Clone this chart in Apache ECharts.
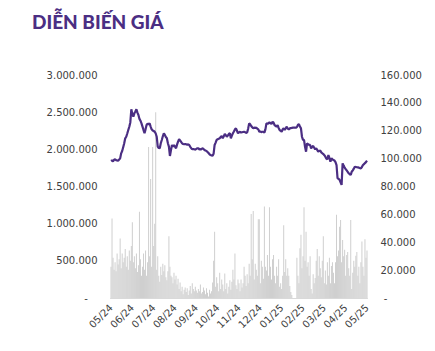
<!DOCTYPE html>
<html>
<head>
<meta charset="utf-8">
<script src="https://cdn.jsdelivr.net/npm/echarts@6/dist/echarts.min.js"></script>
<style>
html,body{margin:0;padding:0;background:#fff;}
#c{width:435px;height:351px;}
</style>
</head>
<body>
<div id="c"></div>
<script>
var titleText = 'DIỄN BIẾN GIÁ';
var monthLabels = ['05/24','06/24','07/24','08/24','09/24','10/24','11/24','12/24','01/25','02/25','03/25','04/25','05/25'];
var price = [
98300,98800,98000,99200,99500,98900,98700,98500,99300,100200,
103800,105500,108200,111000,114600,115700,118000,120500,122900,126000,
135400,132000,130100,132500,133800,135400,133000,131300,128500,127200,
125300,123000,120500,118200,121000,124100,125000,124600,125300,123000,
121000,120200,119800,119300,118000,115700,108600,107600,107400,111000,
113400,116000,118200,117000,115500,114600,111000,108600,101900,106000,
109800,108500,109800,108600,107400,110000,112200,113900,113000,112000,
111000,110500,110300,110500,110300,110000,110200,109800,108500,107500,
106700,106900,106700,106500,107000,107400,107400,106500,106800,106700,
107400,107000,106200,105800,105500,104800,104000,103100,102600,102300,
102100,103500,109800,111500,113400,113900,114200,114600,115500,116300,
114600,116000,117700,116800,115700,116500,117700,118200,114600,116500,
118200,119500,121000,121700,120000,118200,118800,119300,118700,118900,
119100,119300,119000,118500,118700,121500,125300,124600,123400,122500,
121700,122300,122000,122200,121500,121000,119300,119500,119000,119300,
119300,118700,121000,125300,125000,125300,126000,125500,124800,126500,
125800,124100,123500,122900,124100,122000,120500,120000,119300,121000,
121700,120500,121800,122900,121500,121000,121700,121900,122000,122200,
122200,122200,122200,122600,124200,124800,123000,121700,115700,113400,
113400,108500,105000,110900,110300,109800,109800,107400,108500,109100,
107800,106700,107400,106300,105000,105500,105700,104500,103800,103300,
102500,101400,100000,99500,102600,100500,97800,100200,99500,99000,
98600,97500,95400,85900,85500,84800,83000,81100,96600,95000,
93500,92500,91500,90500,89500,88800,88300,90700,91500,92800,
94200,94000,93800,93700,93500,93200,93000,94000,95400,96000,
96800,97500,98500
];
var volume = [
420000,1070000,540000,380000,480000,360000,600000,450000,520000,800000,
400000,600000,480000,540000,660000,420000,560000,380000,640000,500000,
700000,1020000,480000,560000,400000,600000,350000,440000,1160000,520000,
300000,420000,600000,380000,640000,300000,480000,2030000,560000,1600000,
420000,2030000,700000,1000000,2500000,380000,560000,300000,220000,420000,
310000,460000,360000,440000,280000,240000,360000,830000,420000,300000,
280000,200000,340000,250000,300000,180000,260000,120000,210000,90000,
150000,50000,110000,140000,80000,130000,40000,100000,160000,60000,
200000,120000,90000,150000,100000,70000,120000,90000,180000,60000,
80000,140000,100000,50000,130000,70000,20000,110000,60000,90000,
210000,500000,890000,150000,280000,200000,90000,340000,120000,250000,
180000,90000,330000,120000,200000,60000,150000,240000,110000,220000,
380000,250000,600000,170000,120000,250000,200000,90000,250000,140000,
200000,420000,300000,160000,320000,200000,460000,300000,1130000,520000,
1170000,250000,460000,380000,300000,1060000,1060000,200000,500000,420000,
260000,1230000,420000,370000,580000,300000,1220000,420000,250000,520000,
580000,300000,200000,420000,300000,520000,150000,200000,120000,300000,
980000,350000,520000,300000,400000,300000,160000,80000,40000,0,
0,0,0,540000,300000,200000,670000,850000,400000,560000,
1220000,500000,890000,420000,480000,300000,560000,120000,60000,320000,
200000,270000,500000,660000,300000,560000,400000,280000,500000,830000,
200000,370000,180000,480000,300000,540000,200000,430000,480000,340000,
200000,480000,1120000,560000,640000,960000,1050000,480000,780000,560000,
650000,300000,580000,620000,400000,300000,1050000,120000,340000,500000,
420000,570000,620000,300000,420000,200000,480000,760000,420000,300000,
790000,540000,640000
];
var labelStep = 21;
var categories = price.map(function(_, i){
  return (i % labelStep === 0) ? monthLabels[i / labelStep] : '';
});
function dots(v){
  if (v === 0) return '-   ';
  return String(v).replace(/\B(?=(\d{3})+(?!\d))/g, '.');
}
function dotsR(v){
  if (v === 0) return ' -';
  return String(v).replace(/\B(?=(\d{3})+(?!\d))/g, '.');
}
var chart = echarts.init(document.getElementById('c'), null, {renderer:'svg'});
chart.setOption({
  animation:false,
  backgroundColor:'#fff',
  title:{
    text:titleText, left:27, top:7,
    textStyle:{fontFamily:'Lato', fontSize:19, fontWeight:900, color:'#4b2e83'}
  },
  grid:{left:110.5, right:67.5, top:75, bottom:53},
  xAxis:{
    type:'category', data:categories, boundaryGap:true,
    axisLine:{show:true, lineStyle:{color:'#d9d9d9', width:1}},
    axisTick:{show:false},
    axisLabel:{
      rotate:45, margin:8, interval:labelStep - 1, hideOverlap:false,
      fontFamily:'DejaVu Sans', fontSize:10, color:'#404040'
    },
    splitLine:{show:false}
  },
  yAxis:[
    {type:'value', min:0, max:3000000, interval:500000, position:'left',
     axisLine:{show:false}, axisTick:{show:false}, splitLine:{show:false},
     axisLabel:{margin:13, formatter:dots, fontFamily:'DejaVu Sans', fontSize:10, color:'#404040'}},
    {type:'value', min:0, max:160000, interval:20000, position:'right',
     axisLine:{show:false}, axisTick:{show:false}, splitLine:{show:false},
     axisLabel:{margin:13, formatter:dotsR, fontFamily:'DejaVu Sans', fontSize:10, color:'#404040'}}
  ],
  series:[
    {type:'bar', yAxisIndex:0, data:volume, barCategoryGap:'55%',
     itemStyle:{color:'#cfcfcf'}},
    {type:'line', yAxisIndex:1, data:price, showSymbol:false, symbol:'none',
     lineStyle:{color:'#4b2e83', width:2.2}, z:5}
  ]
});
</script>
</body>
</html>
